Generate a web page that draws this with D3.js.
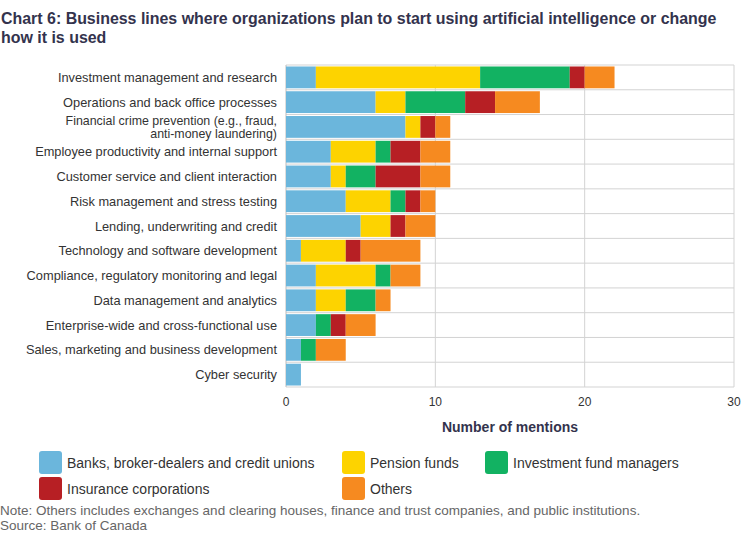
<!DOCTYPE html>
<html>
<head>
<meta charset="utf-8">
<script src="https://cdn.jsdelivr.net/npm/d3@7"></script>
<style>
  body { margin: 0; background: #fff; }
  text { font-family: "Liberation Sans", Arial, sans-serif; }
</style>
</head>
<body>
<script>
// categories, top to bottom
const categories = [
  "Investment management and research",
  "Operations and back office processes",
  "Financial crime prevention (e.g., fraud,|anti-money laundering)",
  "Employee productivity and internal support",
  "Customer service and client interaction",
  "Risk management and stress testing",
  "Lending, underwriting and credit",
  "Technology and software development",
  "Compliance, regulatory monitoring and legal",
  "Data management and analytics",
  "Enterprise-wide and cross-functional use",
  "Sales, marketing and business development",
  "Cyber security"
];
const seriesNames = ["Banks, broker-dealers and credit unions", "Pension funds",
  "Investment fund managers", "Insurance corporations", "Others"];
const banks      = [2, 6, 8, 3, 3, 4, 5, 1, 2, 2, 2, 1, 1];
const pension    = [11, 2, 1, 3, 1, 3, 2, 3, 4, 2, 0, 0, 0];
const fundMgrs   = [6, 4, 0, 1, 2, 1, 0, 0, 1, 2, 1, 1, 0];
const insurance  = [1, 2, 1, 2, 3, 1, 1, 1, 0, 0, 1, 0, 0];
const others     = [2, 3, 1, 2, 2, 1, 2, 4, 2, 1, 2, 2, 0];
const xTicks = [0, 10, 20, 30];
const colors = ["#6bb6dc", "#fdd300", "#12b262", "#b71f24", "#f68a20"];

const w = 750, h = 535;
const plotLeft = 286, plotRight = 734, plotTop = 65, plotBottom = 387;

const rows = categories.map((c, i) => ({
  cat: c, s0: banks[i], s1: pension[i], s2: fundMgrs[i], s3: insurance[i], s4: others[i]
}));
const keys = ["s0", "s1", "s2", "s3", "s4"];
const stacked = d3.stack().keys(keys)(rows);

const svg = d3.select("body").append("svg").attr("width", w).attr("height", h);

const x = d3.scaleLinear().domain([0, 30]).range([plotLeft, plotRight]);
const y = d3.scaleBand().domain(categories).range([plotTop, plotBottom]).paddingInner(0.12).paddingOuter(0.06);

// title, squeezed horizontally like the narrow original face
const titleLines = ["Chart 6: Business lines where organizations plan to start using artificial intelligence or change",
  "how it is used"];
const titleG = svg.append("g");
const titleTexts = titleLines.map((t, i) => titleG.append("text")
  .attr("x", 0).attr("y", 24 + i * 19)
  .attr("font-size", 17).attr("font-weight", "bold").attr("fill", "#33334d")
  .text(t));
const natW = titleTexts[0].node().getComputedTextLength();
titleG.attr("transform", `translate(1,0) scale(${716 / natW},1)`);

// grid
const step = (plotBottom - plotTop) / categories.length;
const hLines = d3.range(categories.length + 1).map(i => plotTop + i * step);
svg.selectAll(".hgrid").data(hLines).enter().append("line")
  .attr("x1", plotLeft).attr("x2", plotRight).attr("y1", d => d).attr("y2", d => d)
  .attr("stroke", "#d3d3d3").attr("stroke-width", 1);
svg.selectAll(".vgrid").data(xTicks).enter().append("line")
  .attr("x1", d => x(d)).attr("x2", d => x(d)).attr("y1", plotTop).attr("y2", plotBottom)
  .attr("stroke", d => d === 0 ? "#bdbdbd" : "#d3d3d3").attr("stroke-width", 1);

// bars
svg.selectAll(".layer").data(stacked).enter().append("g")
  .attr("fill", (d, i) => colors[i])
  .selectAll("rect").data(d => d.filter(p => p[1] > p[0])).enter().append("rect")
  .attr("x", d => x(d[0]))
  .attr("y", d => y(d.data.cat))
  .attr("width", d => x(d[1]) - x(d[0]))
  .attr("height", y.bandwidth());

// category labels
categories.forEach(c => {
  const parts = c.split("|");
  const cy = y(c) + y.bandwidth() / 2;
  const fs = parts.length > 1 ? 12.4 : 12.8;
  parts.forEach((p, j) => {
    svg.append("text").attr("x", 277).attr("text-anchor", "end")
      .attr("font-size", fs).attr("fill", "#333")
      .attr("y", cy + 4.5 + (j - (parts.length - 1) / 2) * 13)
      .text(p);
  });
});

// x tick labels
svg.selectAll(".tick").data(xTicks).enter().append("text")
  .attr("x", d => x(d)).attr("y", 406).attr("text-anchor", "middle")
  .attr("font-size", 12).attr("fill", "#333").text(d => d);

svg.append("text").attr("x", (plotLeft + plotRight) / 2).attr("y", 432).attr("text-anchor", "middle")
  .attr("font-size", 14).attr("font-weight", "bold").attr("fill", "#33334d")
  .text("Number of mentions");

// legend
const legendPos = [[39, 451], [342, 451], [485, 451], [39, 477], [342, 477]];
seriesNames.forEach((n, i) => {
  const [lx, ly] = legendPos[i];
  svg.append("rect").attr("x", lx).attr("y", ly).attr("width", 23).attr("height", 23)
    .attr("rx", 3).attr("fill", colors[i]);
  svg.append("text").attr("x", lx + 28).attr("y", ly + 16.5)
    .attr("font-size", 14).attr("fill", "#333").text(n);
});

svg.append("text").attr("x", 0).attr("y", 515).attr("font-size", 13.5).attr("fill", "#666")
  .text("Note: Others includes exchanges and clearing houses, finance and trust companies, and public institutions.");
svg.append("text").attr("x", 0).attr("y", 530).attr("font-size", 13.5).attr("fill", "#666")
  .text("Source: Bank of Canada");
</script>
</body>
</html>
